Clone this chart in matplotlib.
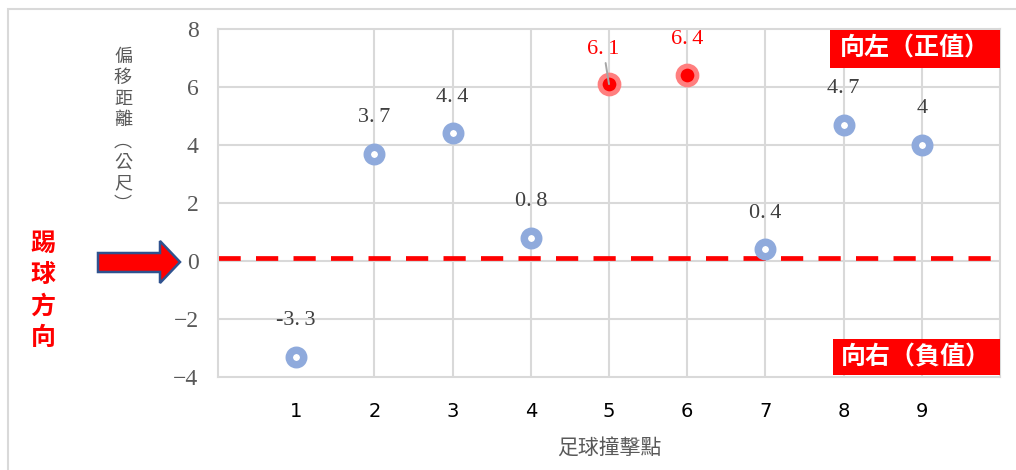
import matplotlib
matplotlib.use("Agg")
import matplotlib.pyplot as plt
from matplotlib.patches import Polygon, Rectangle

plt.rcParams['font.family'] = ['Noto Sans CJK TC', 'DejaVu Sans']
plt.rcParams['lines.scale_dashes'] = False

hit_points = [1, 2, 3, 4, 5, 6, 7, 8, 9]
offsets = [-3.3, 3.7, 4.4, 0.8, 6.1, 6.4, 0.4, 4.7, 4]
value_labels = ['-3.3', '3.7', '4.4', '0.8', '6.1', '6.4', '0.4', '4.7', '4']
red_points = [5, 6]
kick_line = 0.1

W, H = 1016, 470
fig = plt.figure(figsize=(W / 100, H / 100), dpi=100)
ax = fig.add_axes([218 / W, 1 - 377 / H, (1000 - 218) / W, (377 - 29) / H])

grid_c = '#d9d9d9'
serif = ['Liberation Serif', 'DejaVu Serif']
ax.set_xlim(0, 10)
ax.set_ylim(-4, 8)
ax.set_yticks(range(-4, 9, 2))
ax.set_yticklabels(['\u22124', '\u22122', '0', '2', '4', '6', '8'],
                   family=serif, fontsize=17, color='#595959')
ax.set_xticks(hit_points)
ax.set_xticklabels([str(p) for p in hit_points], family='DejaVu Sans', fontsize=14, color='black')
ax.tick_params(axis='both', length=0)
ax.tick_params(axis='y', pad=14)
ax.tick_params(axis='x', pad=18)
for s in ax.spines.values():
    s.set_color(grid_c)
    s.set_linewidth(1.5)
for y in range(-2, 8, 2):
    ax.axhline(y, color=grid_c, lw=1.5, zorder=0)
for x in range(2, 10):
    ax.axvline(x, color=grid_c, lw=1.5, zorder=0)

# kick direction reference line
ax.plot([0, 10], [kick_line, kick_line], color='red', lw=3.4, dashes=(16, 11), zorder=2)

for x, y, lab in zip(hit_points, offsets, value_labels):
    txt = lab.replace('.', '.\u2009')
    if x in red_points:
        ax.plot(x, y, 'o', ms=13.5, mew=3.6, mfc='red', mec='#ff7f7f', zorder=4)
        col = 'red'
    else:
        ax.plot(x, y, 'o', ms=10.4, mew=5.4, mfc='white', mec='#8faadc', zorder=4)
        col = '#404040'
    if x == 5:
        # label pushed up a little, with a leader line back to the point
        ax.annotate(txt, xy=(x, y), xytext=(-4, 25), textcoords='offset points',
                    ha='center', va='center', fontsize=16, color=col, family=serif,
                    arrowprops=dict(arrowstyle='-', color='#a6a6a6', lw=1.4, shrinkA=1, shrinkB=0),
                    zorder=5)
    else:
        ax.annotate(txt, xy=(x, y), xytext=(0, 26), textcoords='offset points',
                    ha='center', va='center', fontsize=16, color=col, family=serif,
                    zorder=5)

ax.set_xlabel('足球撞擊點', fontsize=15, color='#595959', labelpad=12)

# vertical axis title, stacked characters
fig.text(123 / W, 1 - 131 / H, '偏\n移\n距\n離\n︵\n公\n尺\n︶', ha='center', va='center',
         fontsize=13, color='#595959', linespacing=1.22)

fig.text(43 / W, 1 - 291 / H, '踢\n球\n方\n向', ha='center', va='center',
         fontsize=18, color='red', fontweight='bold', linespacing=1.4)

# arrow pointing at zero
arrow_px = [(98, 253), (160, 253), (160, 241), (180, 262), (160, 283), (160, 272), (98, 272)]
fig.patches.append(Polygon([(x / W, 1 - y / H) for x, y in arrow_px], closed=True,
                           transform=fig.transFigure, facecolor='red', edgecolor='#2f528f', lw=1.8))

# direction boxes
fig.patches.append(Rectangle((830 / W, 1 - 68 / H), 170 / W, 38 / H, transform=fig.transFigure,
                             facecolor='red', edgecolor='none', zorder=10))
fig.text(915 / W, 1 - 49 / H, '向左（正值）', ha='center', va='center', fontsize=18,
         color='white', fontweight='bold', zorder=11)
fig.patches.append(Rectangle((833 / W, 1 - 375 / H), 167 / W, 36 / H, transform=fig.transFigure,
                             facecolor='red', edgecolor='none', zorder=10))
fig.text(916 / W, 1 - 357 / H, '向右（負值）', ha='center', va='center', fontsize=18,
         color='white', fontweight='bold', zorder=11)

# outer frame
fig.patches.append(Rectangle((8 / W, -0.1), 1.2, 1 - 9 / H + 0.1, transform=fig.transFigure,
                             facecolor='none', edgecolor=grid_c, lw=1.5))

fig.savefig('out.png', dpi=100)
